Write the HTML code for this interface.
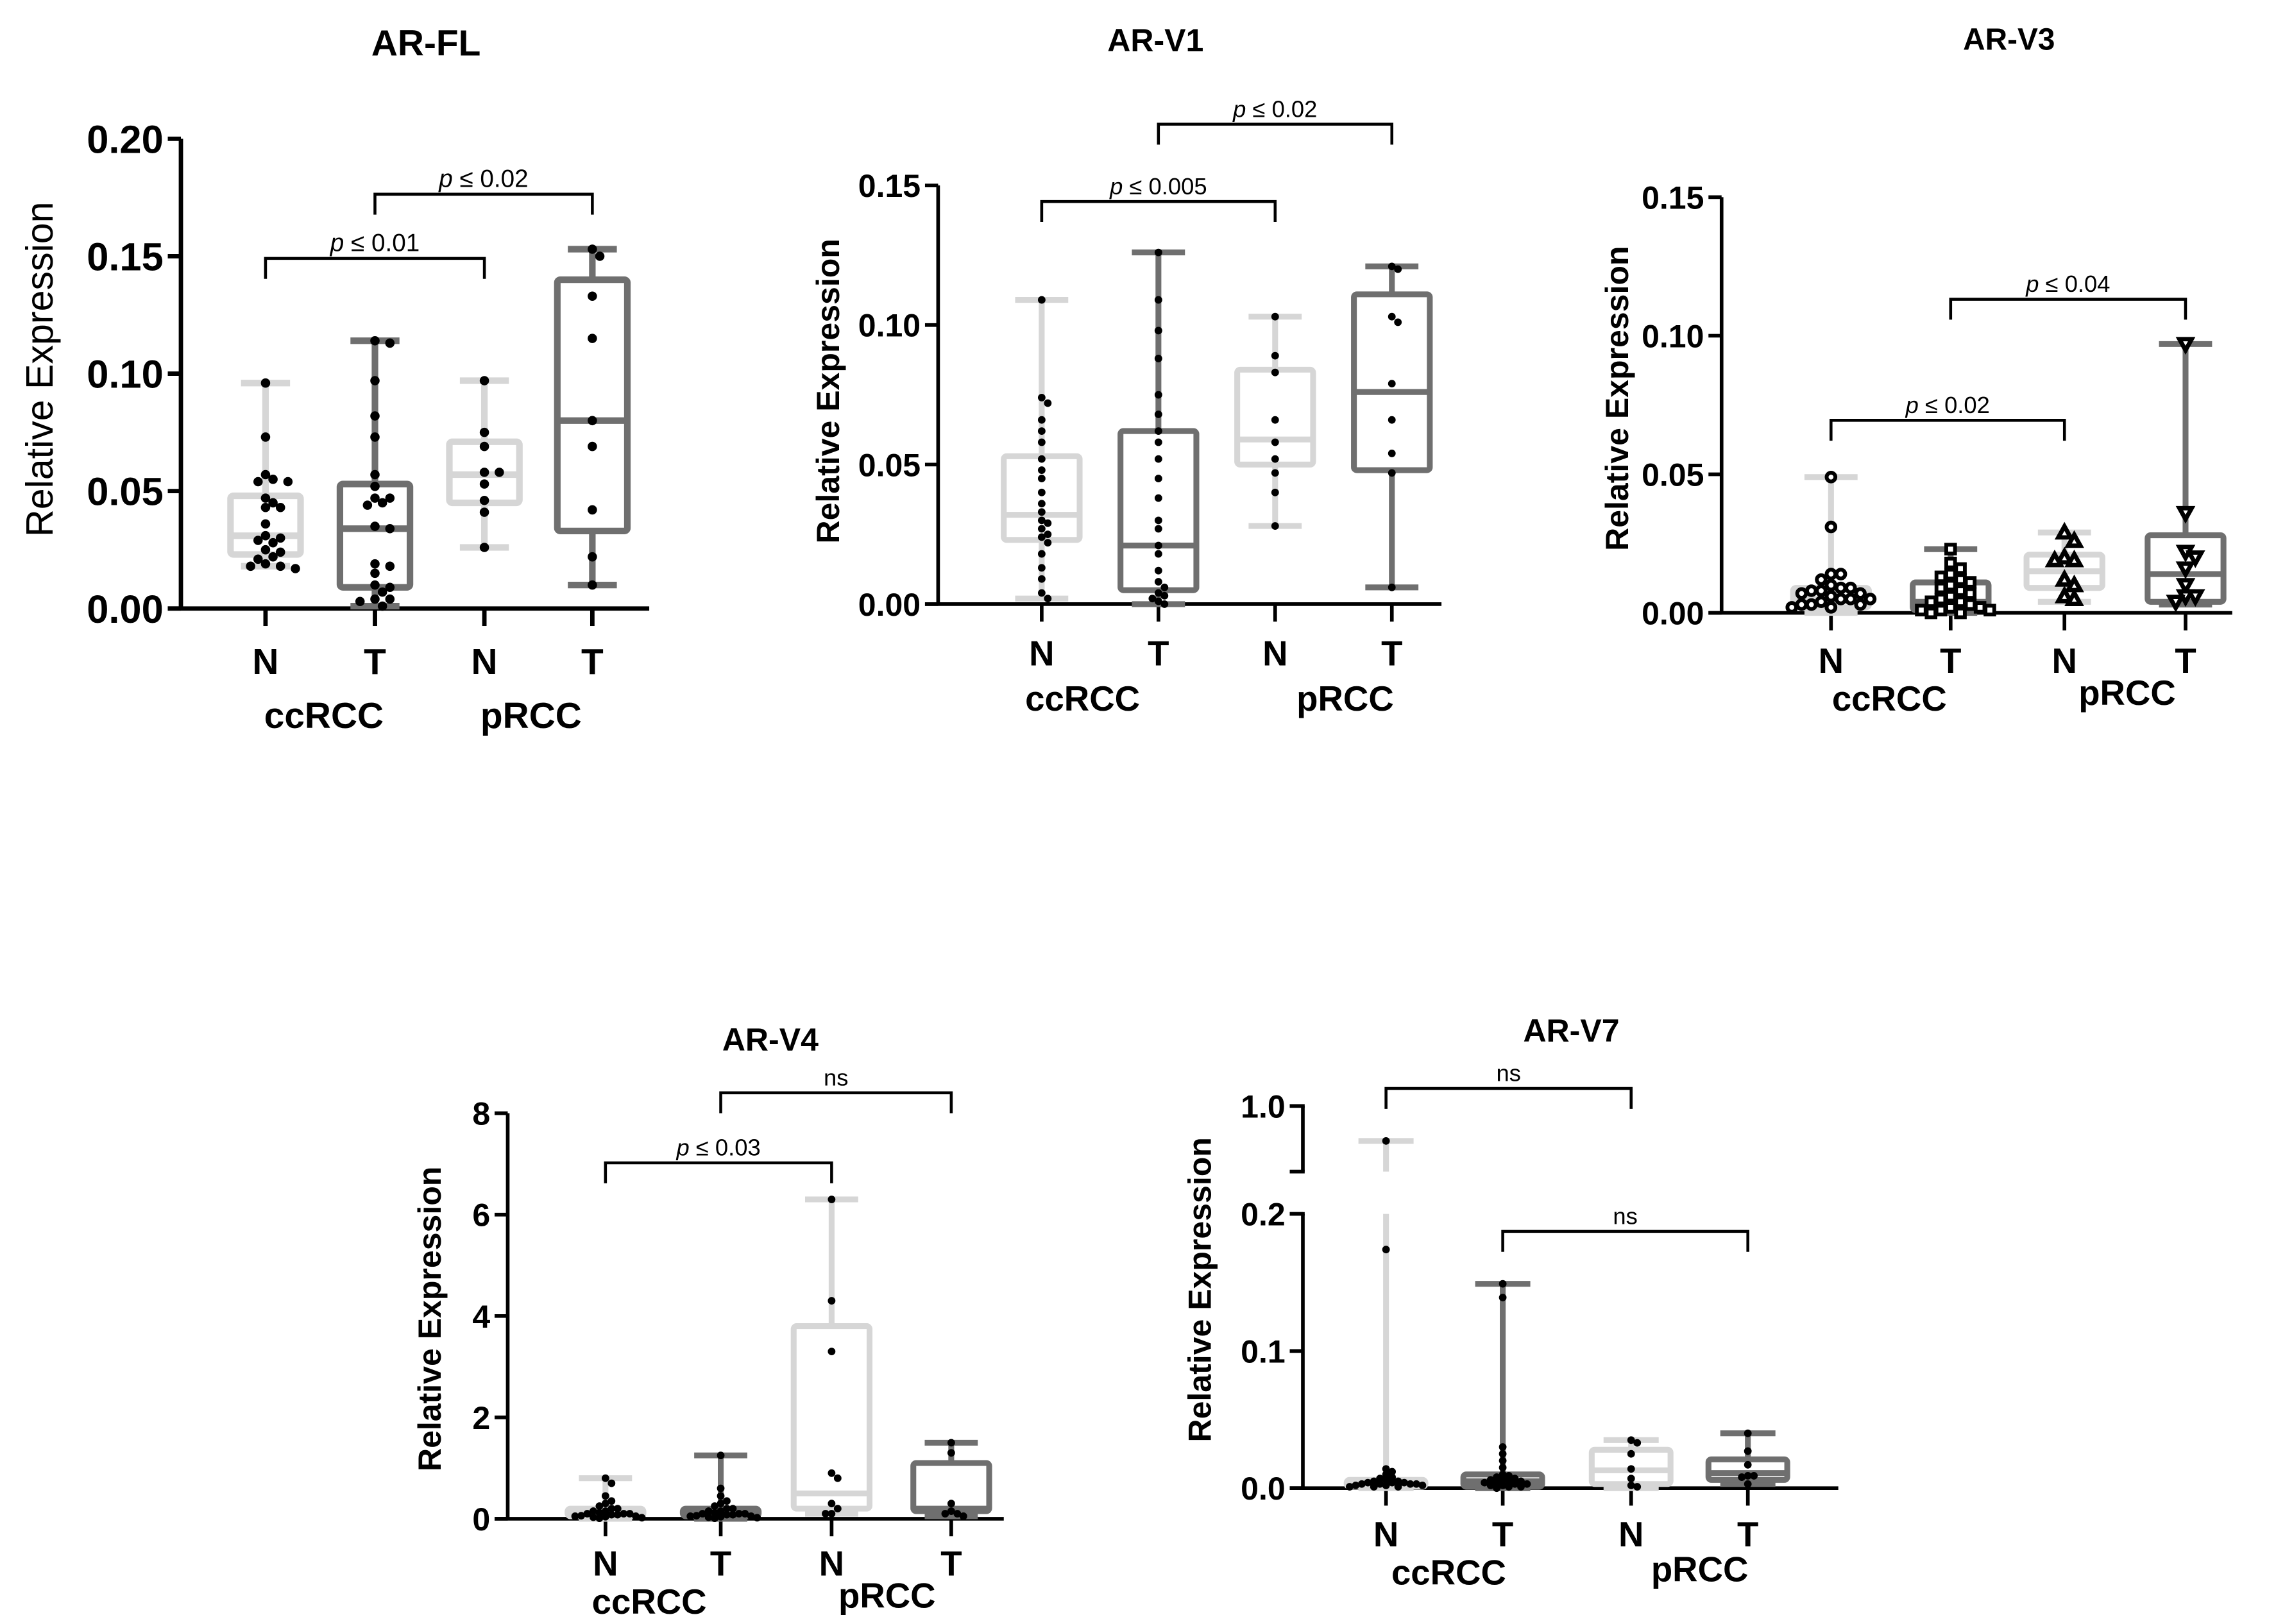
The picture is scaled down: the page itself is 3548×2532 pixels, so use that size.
<!DOCTYPE html>
<html><head><meta charset="utf-8"><style>
html,body{margin:0;padding:0;background:#fff;}
svg{display:block;}
text{font-family:"Liberation Sans",Arial,sans-serif;}
</style></head><body>
<svg id="fig" width="3548" height="2532" viewBox="0 0 1560 1113" xmlns="http://www.w3.org/2000/svg"></svg>
<script>
// ---------- DATA ----------
const categories = ["N","T","N","T"];
const groupNames = ["ccRCC","pRCC"];

// AR-FL
const flBox = [[0.018,0.023,0.031,0.048,0.096],[0.001,0.009,0.034,0.053,0.114],[0.026,0.045,0.057,0.071,0.097],[0.010,0.033,0.080,0.140,0.153]];
const flPts = [
 [0.096,0.073,0.057,0.055,0.054,0.054,0.047,0.045,0.043,0.043,0.036,0.031,0.030,0.029,0.028,0.025,0.024,0.022,0.021,0.019,0.018,0.018,0.017],
 [0.114,0.113,0.097,0.082,0.073,0.057,0.052,0.047,0.047,0.045,0.044,0.035,0.034,0.019,0.018,0.015,0.010,0.009,0.007,0.004,0.004,0.003,0.001],
 [0.097,0.075,0.069,0.058,0.058,0.053,0.046,0.041,0.026],
 [0.153,0.150,0.133,0.115,0.080,0.069,0.042,0.022,0.010]];
const flTicks = [0,0.05,0.10,0.15,0.20];
const flTickLabels = ["0.00","0.05","0.10","0.15","0.20"];

// AR-V1
const v1Box = [[0.002,0.023,0.032,0.053,0.109],[0.000,0.005,0.021,0.062,0.126],[0.028,0.050,0.059,0.084,0.103],[0.006,0.048,0.076,0.111,0.121]];
const v1Pts = [
 [0.109,0.074,0.072,0.066,0.062,0.058,0.052,0.048,0.045,0.040,0.036,0.033,0.030,0.029,0.027,0.025,0.024,0.022,0.018,0.013,0.009,0.004,0.002],
 [0.126,0.109,0.098,0.088,0.075,0.068,0.062,0.058,0.052,0.045,0.038,0.030,0.027,0.021,0.018,0.012,0.008,0.006,0.004,0.003,0.002,0.001,0.000],
 [0.103,0.089,0.083,0.066,0.058,0.052,0.047,0.040,0.028],
 [0.121,0.120,0.103,0.101,0.079,0.066,0.054,0.047,0.006]];
const v1Ticks = [0,0.05,0.10,0.15];
const v1TickLabels = ["0.00","0.05","0.10","0.15"];

// AR-V3
const v3Box = [[0.000,0.002,0.005,0.009,0.049],[0.000,0.001,0.004,0.011,0.023],[0.004,0.009,0.015,0.021,0.029],[0.003,0.004,0.014,0.028,0.097]];
const v3Pts = [
 [0.049,0.031,0.014,0.014,0.012,0.010,0.009,0.009,0.008,0.008,0.007,0.007,0.006,0.005,0.005,0.005,0.004,0.003,0.003,0.003,0.002,0.002,0.002],
 [0.023,0.018,0.016,0.014,0.013,0.012,0.011,0.010,0.009,0.008,0.007,0.006,0.005,0.004,0.004,0.003,0.002,0.002,0.001,0.001,0.001,0.000,0.000],
 [0.029,0.026,0.020,0.019,0.019,0.012,0.010,0.006,0.005],
 [0.097,0.036,0.022,0.020,0.016,0.010,0.006,0.006,0.004]];
const v3Ticks = [0,0.05,0.10,0.15];
const v3TickLabels = ["0.00","0.05","0.10","0.15"];

// AR-V4
const v4Box = [[0.0,0.05,0.1,0.2,0.8],[0.0,0.05,0.1,0.2,1.25],[0.1,0.2,0.5,3.8,6.3],[0.05,0.15,0.2,1.1,1.5]];
const v4Pts = [
 [0.8,0.7,0.45,0.35,0.3,0.25,0.2,0.2,0.15,0.15,0.12,0.1,0.1,0.1,0.08,0.08,0.06,0.05,0.05,0.04,0.03,0.02,0.01],
 [1.25,0.6,0.45,0.35,0.3,0.25,0.2,0.2,0.15,0.15,0.12,0.1,0.1,0.1,0.08,0.08,0.06,0.05,0.05,0.04,0.03,0.02,0.01],
 [6.3,4.3,3.3,0.9,0.8,0.3,0.2,0.1,0.1],
 [1.5,1.3,0.3,0.15,0.1,0.1,0.05]];
const v4Ticks = [0,2,4,6,8];
const v4TickLabels = ["0","2","4","6","8"];

// AR-V7
const v7Box = [[0.0,0.001,0.003,0.006,0.6],[0.0,0.001,0.005,0.010,0.149],[0.0,0.003,0.013,0.028,0.035],[0.003,0.006,0.011,0.021,0.040]];
const v7Pts = [
 [0.6,0.174,0.014,0.012,0.010,0.008,0.007,0.006,0.005,0.005,0.004,0.004,0.004,0.003,0.003,0.003,0.003,0.002,0.002,0.002,0.001,0.001,0.001],
 [0.149,0.139,0.030,0.025,0.020,0.015,0.010,0.009,0.008,0.007,0.006,0.006,0.005,0.005,0.004,0.004,0.003,0.003,0.002,0.002,0.001,0.001,0.000],
 [0.035,0.033,0.025,0.014,0.007,0.002,0.001],
 [0.040,0.027,0.017,0.009,0.009,0.008,0.003]];
const v7Ticks = [0,0.1,0.2,1.0];
const v7TickLabels = ["0.0","0.1","0.2","1.0"];

// ---------- DRAW ----------
const NS="http://www.w3.org/2000/svg";
const svg=document.getElementById('fig');
function mk(tag,attrs,parent){const e=document.createElementNS(NS,tag);for(const k in attrs)e.setAttribute(k,attrs[k]);(parent||svg).appendChild(e);return e;}
const LIGHT="#d6d6d6", DARK="#6f6f6f";

function panel(cfg){
  const g=mk('g',{});
  
  
  const y=cfg.yScale;
  const t=mk('text',{x:cfg.titleX,y:cfg.titleY,'text-anchor':'middle','font-size':cfg.titleSize,'font-weight':'bold'},g);
  t.textContent=cfg.title;
  
  
  const yl=mk('text',{x:0,y:0,'text-anchor':'middle','font-size':cfg.ylSize,'font-weight':cfg.ylWeight,transform:`translate(${cfg.ylX},${cfg.ylY}) rotate(-90)`},g);
  yl.textContent="Relative Expression";
  
  
  const sw=cfg.axisW;
  if(cfg.axisSegments){
    cfg.axisSegments.forEach(s=>{mk('line',{x1:cfg.ax,x2:cfg.ax,y1:s[0],y2:s[1],stroke:'#000','stroke-width':sw},g);
      mk('line',{x1:cfg.ax-9,x2:cfg.ax+sw/2,y1:s[0],y2:s[0],stroke:'#000','stroke-width':sw},g);
      mk('line',{x1:cfg.ax-9,x2:cfg.ax+sw/2,y1:s[1],y2:s[1],stroke:'#000','stroke-width':sw},g);});
  } else {
    mk('line',{x1:cfg.ax,x2:cfg.ax,y1:y(cfg.ticks[cfg.ticks.length-1]),y2:y(0),stroke:'#000','stroke-width':sw},g);
  }
  const xa=mk('line',{x1:cfg.ax-9,x2:cfg.xRight,y1:y(0),y2:y(0),stroke:'#000','stroke-width':sw},g);
  
  
  cfg.ticks.forEach((v,i)=>{
    mk('line',{x1:cfg.ax-9,x2:cfg.ax,y1:y(v),y2:y(v),stroke:'#000','stroke-width':sw},g);
    const tl=mk('text',{x:cfg.ax-12,y:y(v)+cfg.tickSize*0.36,'text-anchor':'end','font-size':cfg.tickSize,'font-weight':'bold'},g);
    tl.textContent=cfg.tickLabels[i];
    
    
  });
  cfg.cx.forEach((x,i)=>{
    mk('line',{x1:x,x2:x,y1:y(0),y2:y(0)+12,stroke:'#000','stroke-width':sw},g);
    const c=mk('text',{x:x,y:cfg.catY,'text-anchor':'middle','font-size':cfg.catSize,'font-weight':'bold'},g);
    c.textContent=categories[i];
    
    
  });
  cfg.groups.forEach((gp,i)=>{
    const c=mk('text',{x:gp[0],y:gp[1],'text-anchor':'middle','font-size':cfg.catSize,'font-weight':'bold'},g);
    c.textContent=groupNames[i];
    
    
  });
  const bw=cfg.boxW, lw=cfg.lineW;
  cfg.box.forEach((b,i)=>{
    const col=(i%2===0)?LIGHT:DARK, x=cfg.cx[i];
    const bg=mk('g',{},g);
    
    
    if(cfg.whiskerSegs){
      cfg.whiskerSegs(b[0],b[4]).forEach(s=>mk('line',{x1:x,x2:x,y1:s[0],y2:s[1],stroke:col,'stroke-width':lw},bg));
    } else mk('line',{x1:x,x2:x,y1:y(b[0]),y2:y(b[4]),stroke:col,'stroke-width':lw},bg);
    mk('line',{x1:x-bw*0.35,x2:x+bw*0.35,y1:y(b[0]),y2:y(b[0]),stroke:col,'stroke-width':lw},bg);
    mk('line',{x1:x-bw*0.35,x2:x+bw*0.35,y1:y(b[4]),y2:y(b[4]),stroke:col,'stroke-width':lw},bg);
    mk('rect',{x:x-bw/2,y:y(b[3]),width:bw,height:Math.max(1,y(b[1])-y(b[3])),fill:'#fff',stroke:col,'stroke-width':lw,rx:2},bg);
    mk('line',{x1:x-bw/2,x2:x+bw/2,y1:y(b[2]),y2:y(b[2]),stroke:col,'stroke-width':lw},bg);
  });
  const r=cfg.r, maxOff=cfg.maxOff||bw*0.6, cd=cfg.collide||1.7*r;
  cfg.pts.forEach((arr,gi)=>{
    const placed=[];
    arr.forEach(v=>{
      const py=y(v); let best=null,bestC=1e9;
      for(let k=0;k<60;k++){
        const off=(k===0)?0:Math.ceil(k/2)*r*1.6*(k%2?1:-1);
        if(Math.abs(off)>maxOff) break;
        const tx=cfg.cx[gi]+off;
        const c=placed.filter(p=>(p[0]-tx)**2+(p[1]-py)**2<cd*cd).length;
        if(c===0){best=tx;break;}
        if(c<bestC){bestC=c;best=tx;}
      }
      const px=best;
      placed.push([px,py]);
      const shape=cfg.markers?cfg.markers[gi]:'dot';
      let m;
      if(shape==='dot') m=mk('circle',{cx:px,cy:py,r:r,fill:'#000'},g);
      else if(shape==='ocircle') m=mk('circle',{cx:px,cy:py,r:r-1.2,fill:'#fff',stroke:'#000','stroke-width':2.6},g);
      else if(shape==='osquare') m=mk('rect',{x:px-r+1.2,y:py-r+1.2,width:2*r-2.4,height:2*r-2.4,fill:'#fff',stroke:'#000','stroke-width':2.6},g);
      else if(shape==='tri') m=mk('polygon',{points:`${px},${py-r} ${px-r},${py+r*0.8} ${px+r},${py+r*0.8}`,fill:'#fff',stroke:'#000','stroke-width':3},g);
      else m=mk('polygon',{points:`${px},${py+r} ${px-r},${py-r*0.8} ${px+r},${py-r*0.8}`,fill:'#fff',stroke:'#000','stroke-width':3},g);
      
      
    });
  });
  cfg.brackets.forEach(br=>{
    const [i1,i2,yy,lab]=br, x1=cfg.cx[i1], x2=cfg.cx[i2];
    const bgp=mk('g',{},g);
    
    
    mk('path',{d:`M${x1},${yy+14} V${yy} H${x2} V${yy+14}`,fill:'none',stroke:'#000','stroke-width':2},bgp);
    const tx=mk('text',{x:(x1+x2)/2,y:yy-5,'text-anchor':'middle','font-size':cfg.pSize},bgp);
    if(lab==='ns'){tx.textContent='ns';}
    else{const a=mk('tspan',{'font-style':'italic'},tx);a.textContent='p';const b=mk('tspan',{},tx);b.textContent=' ≤ '+lab;}
  });
}
function lin(y0,yTop,vmax){return v=>y0-(v/vmax)*(y0-yTop);}

panel({name:'ar-fl',title:'AR-FL',titleX:292,titleY:38,titleSize:25,ylX:36,ylY:253,ylSize:26,ylWeight:'normal',
  ax:124,xRight:445,yScale:lin(417,95,0.20),ticks:flTicks,tickLabels:flTickLabels,tickSize:27,axisW:3,
  cx:[182,257,332,406],catY:462,catSize:25,groups:[[222,499],[364,499]],box:flBox,pts:flPts,boxW:48,lineW:4.5,r:3.2,
  brackets:[[0,2,177,'0.01'],[1,3,133,'0.02']],pSize:17});
panel({name:'ar-v1',title:'AR-V1',titleX:792,titleY:35,titleSize:22,ylX:575,ylY:268,ylSize:22,ylWeight:'bold',
  ax:643,xRight:988,yScale:lin(414,127,0.15),ticks:v1Ticks,tickLabels:v1TickLabels,tickSize:22,axisW:2.5,
  cx:[714,794,874,954],catY:456,catSize:24,groups:[[742,487],[922,487]],box:v1Box,pts:v1Pts,boxW:52,lineW:4,r:2.6,
  brackets:[[0,2,138,'0.005'],[1,3,85,'0.02']],pSize:16});
panel({name:'ar-v3',title:'AR-V3',titleX:1377,titleY:34,titleSize:21,ylX:1116,ylY:273,ylSize:22,ylWeight:'bold',
  ax:1180,xRight:1530,yScale:lin(420,135,0.15),ticks:v3Ticks,tickLabels:v3TickLabels,tickSize:22,axisW:2.5,
  cx:[1255,1337,1415,1498],catY:461,catSize:24,groups:[[1295,487],[1458,483]],box:v3Box,pts:v3Pts,boxW:52,lineW:4,r:4.2,
  maxOff:28,collide:6,
  markers:['ocircle','osquare','tri','itri'],brackets:[[0,2,288,'0.02'],[1,3,205,'0.04']],pSize:16});
panel({name:'ar-v4',title:'AR-V4',titleX:528,titleY:720,titleSize:22,ylX:302,ylY:904,ylSize:22,ylWeight:'bold',
  ax:348,xRight:688,yScale:lin(1041,763,8),ticks:v4Ticks,tickLabels:v4TickLabels,tickSize:22,axisW:2.5,
  cx:[415,494,570,652],catY:1080,catSize:24,groups:[[445,1106],[608,1102]],box:v4Box,pts:v4Pts,boxW:52,lineW:4,r:2.6,
  maxOff:30,collide:3.5,
  brackets:[[0,2,797,'0.03'],[1,3,749,'ns']],pSize:16});
const v7scale=v=>{ if(v<=0.2) return 1020-(v/0.2)*(1020-832); return 803-((Math.min(v,1)-0.25)/0.75)*(803-758); };
panel({name:'ar-v7',title:'AR-V7',titleX:1077,titleY:714,titleSize:22,ylX:830,ylY:884,ylSize:22,ylWeight:'bold',
  ax:893,xRight:1260,yScale:v7scale,ticks:v7Ticks,tickLabels:v7TickLabels,tickSize:22,axisW:2.5,
  axisSegments:[[758,803],[832,1020]],
  whiskerSegs:(a,b)=>b>0.2?[[v7scale(a),832],[803,v7scale(b)]]:[[v7scale(a),v7scale(b)]],
  cx:[950,1030,1118,1198],catY:1060,catSize:24,groups:[[993,1086],[1165,1084]],box:v7Box,pts:v7Pts,boxW:54,lineW:4,r:2.6,
  maxOff:32,collide:3.5,
  brackets:[[0,2,746,'ns'],[1,3,844,'ns']],pSize:16});
</script>
</body></html>
